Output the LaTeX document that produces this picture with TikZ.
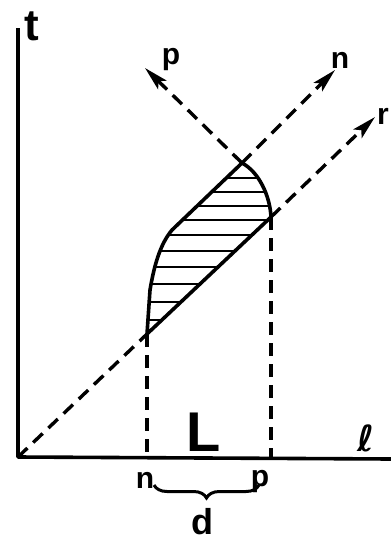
\documentclass[tikz,border=0pt]{standalone}
\usepackage{fontspec}
\setmainfont{Liberation Sans}
\newfontfamily\dejavu{DejaVu Sans}
\usetikzlibrary{arrows.meta,decorations.pathreplacing}
\begin{document}
\begin{tikzpicture}[x=1pt,y=-1pt,
  axis/.style={line width=3.6pt,line join=round},
  dline/.style={line width=3.4pt,dash pattern=on 13pt off 8pt},
  tipped/.style={-{Stealth[length=24pt,width=12pt,inset=5pt]}},
  edge/.style={line width=3.6pt,line join=round,line cap=round},
  hatch/.style={line width=2.4pt},
  lbl/.style={inner sep=0pt,font=\bfseries\fontsize{30}{30}\selectfont}]
\useasboundingbox (0,0) rectangle (391,544);
\coordinate (O) at (18,457);
\coordinate (T) at (18,28);
\coordinate (E) at (391,459);
\coordinate (A) at (147,334);
\coordinate (B) at (271,217);
\coordinate (C) at (242,163);
\coordinate (D) at (172,230);
\coordinate (F) at (150,290);
\coordinate (Rtip) at (375,117);
\coordinate (Ntip) at (335,70);
\coordinate (Ptip) at (145,68);
\coordinate (An) at (147,459);
\coordinate (Bp) at (271,459);
\coordinate (nb) at (154,485);
\coordinate (pb) at (259,485);
% region hatching
\begin{scope}
\clip (A) -- (B) .. controls (270,196) and (259,172) .. (C) -- (D) .. controls (162,242) and (155,260) .. (F) -- cycle;
\foreach \y in {178,192,206,220,235,251,267,284,302,320}
  \draw[hatch] (130,\y) -- (290,\y);
\end{scope}
\draw[edge] (A) -- (B) .. controls (270,196) and (259,172) .. (C) -- (D) .. controls (162,242) and (155,260) .. (F) -- (A);
% axes
\draw[axis] (T) -- (O) -- (E);
% dashed lines
\draw[dline] (O) -- (A);
\draw[dline,tipped] (B) -- (Rtip);
\draw[dline,tipped] (C) -- (Ntip);
\draw[dline,tipped] (C) -- (Ptip);
\draw[dline] (A) -- (An);
\draw[dline] (B) -- (Bp);
% brace
\draw[line width=3pt,decorate,decoration={brace,mirror,amplitude=13pt}] (nb) -- (pb);
% labels
\node[lbl,font=\bfseries\fontsize{44}{44}\selectfont] (tl) at (32,26) {t};
\node[lbl] (pl) at (171,60) {p};
\node[lbl] (nl) at (340,60) {n};
\node[lbl,anchor=west] (rl) at (377,116) {r};
\node[lbl,font=\bfseries\fontsize{56}{56}\selectfont] (Ll) at (204,432) {L};
\node[lbl,font=\dejavu\bfseries\fontsize{36}{36}\selectfont] (ell) at (366,438) {ℓ};
\node[lbl] (nx) at (145,480) {n};
\node[lbl] (px) at (260,482) {p};
\node[lbl,font=\bfseries\fontsize{36}{36}\selectfont] (dl) at (202,522) {d};
\end{tikzpicture}
\end{document}
